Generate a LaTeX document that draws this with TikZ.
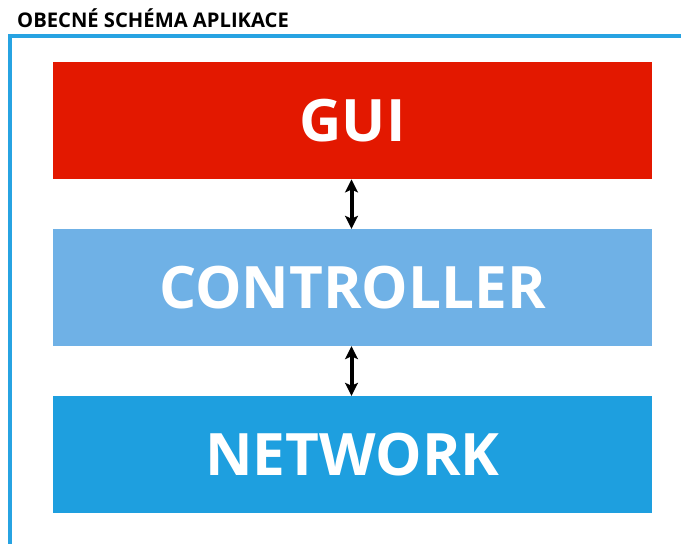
\documentclass[tikz,border=0pt]{standalone}
\usepackage{fontspec}
\setmainfont{Open Sans}
\usetikzlibrary{arrows.meta}

\definecolor{guired}{HTML}{E31800}
\definecolor{ctrlblue}{HTML}{6FB1E6}
\definecolor{netblue}{HTML}{1E9FDF}
\definecolor{frameblue}{HTML}{27A3E2}

\tikzset{
  layer/.style={minimum width=599pt, minimum height=117pt, inner sep=0pt,
    text=white, font=\fontsize{58.5}{60}\selectfont\bfseries},
  link/.style={{Stealth[length=13pt,width=13pt,inset=3pt]}-{Stealth[length=13pt,width=13pt,inset=3pt]}, line width=4pt, black}
}

\begin{document}
\begin{tikzpicture}[x=1pt,y=-1pt]
\useasboundingbox (0,0) rectangle (681,544);

\draw[frameblue, line width=3.5pt] (10,544) -- (10,36) -- (681,36);
\node (title) [anchor=base west, inner sep=0pt, font=\fontsize{20.2}{22}\selectfont\bfseries] at (17,27.5) {OBECNÉ SCHÉMA APLIKACE};

\node (gui) [layer, fill=guired] at (352.5,120.75) {GUI};
\node (ctrl) [layer, fill=ctrlblue] at (352.5,287.5) {CONTROLLER};
\node (net) [layer, fill=netblue] at (352.5,454.5) {NETWORK};

\draw[link] (gui.south) ++(-1,0) coordinate (a1) -- (a1 |- ctrl.north);
\draw[link] (ctrl.south) ++(-1,0) coordinate (a2) -- (a2 |- net.north);
\end{tikzpicture}
\end{document}
